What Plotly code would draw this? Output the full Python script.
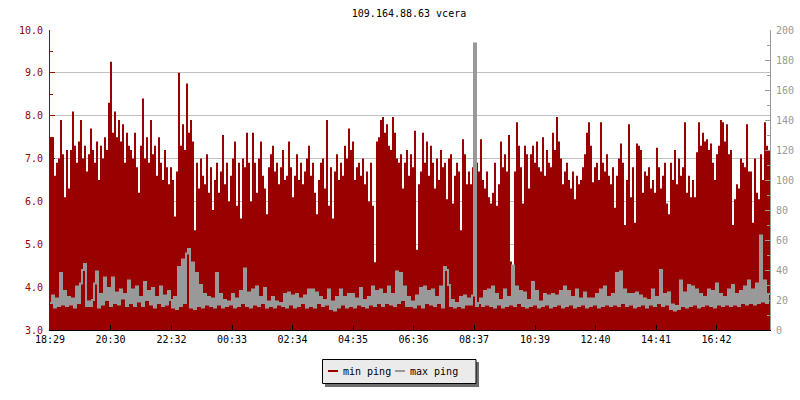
import plotly.graph_objects as go

TITLE = "109.164.88.63 vcera"
TICK_LABELS = ["18:29", "20:30", "22:32", "00:33", "02:34", "04:35",
               "06:36", "08:37", "10:39", "12:40", "14:41", "16:42"]
TICK_MINUTES = [0, 121, 243, 364, 485, 606, 727, 848, 970, 1091, 1212, 1333]
SPAN_MINUTES = 1440
SERIES_NAMES = ["min ping", "max ping"]

# min ping (ms), left axis, one value per 4 minutes
MIN_PING = [
    7.5, 7.5, 6.6, 6.9, 7.0, 7.9, 7.1, 6.1, 7.2, 6.3,
    7.2, 8.1, 7.3, 6.9, 7.4, 7.9, 7.0, 7.3, 6.7, 7.1,
    7.7, 7.2, 6.9, 7.4, 6.5, 7.3, 7.0, 7.5, 7.2, 8.3,
    9.26, 7.6, 8.1, 7.5, 7.9, 7.4, 7.8, 6.9, 7.6, 7.3,
    7.2, 7.0, 7.6, 6.8, 6.2, 7.3, 8.4, 7.0, 7.5, 6.9,
    7.9, 7.1, 7.3, 6.6, 7.5, 6.9, 6.5, 7.2, 6.8, 6.4,
    6.8, 6.5, 5.65, 6.7, 9.0, 7.3, 7.8, 7.2, 8.75, 7.6,
    7.9, 7.4, 5.33, 6.9, 6.3, 7.0, 6.6, 6.4, 7.1, 6.2,
    6.8, 5.8, 6.5, 6.9, 6.2, 6.7, 7.55, 6.4, 6.9, 6.0,
    6.6, 7.0, 7.4, 5.9, 6.9, 5.6, 7.0, 6.8, 7.6, 6.9,
    6.0, 7.6, 6.9, 6.2, 7.0, 7.4, 6.6, 6.3, 5.7, 6.8,
    7.1, 7.3, 6.7, 6.9, 6.4, 6.8, 7.2, 6.5, 6.6, 7.4,
    6.8, 6.1, 6.6, 7.1, 6.5, 6.9, 6.4, 6.7, 7.0, 7.3,
    6.6, 6.9, 6.2, 5.7, 6.5, 6.9, 7.0, 6.3, 7.9, 5.9,
    6.8, 5.6, 6.7, 7.1, 6.5, 6.9, 6.6, 7.3, 7.0, 7.7,
    7.2, 7.4, 6.5, 6.8, 6.9, 6.6, 7.0, 6.4, 6.7, 6.0,
    6.9, 5.9, 4.58, 7.4, 7.5, 7.9, 7.97, 7.6, 7.8, 7.3,
    7.2, 7.97, 7.6, 7.0, 6.9, 7.1, 6.3, 6.9, 7.2, 6.6,
    7.1, 6.8, 7.65, 4.87, 6.4, 6.7, 7.6, 6.9, 7.4, 6.6,
    7.3, 6.9, 6.3, 7.0, 6.5, 7.2, 6.8, 6.9, 6.05, 7.0,
    7.1, 5.95, 6.6, 6.9, 6.7, 5.33, 7.45, 7.1, 6.4, 6.7,
    6.4, 6.8, 6.9, 6.9, 6.7, 7.45, 6.5, 6.3, 6.7, 6.1,
    5.95, 6.2, 6.9, 5.9, 6.4, 7.4, 6.8, 7.1, 6.7, 7.55,
    4.6, 4.47, 6.7, 7.85, 7.3, 6.8, 5.95, 7.3, 7.1, 6.3,
    7.1, 7.3, 6.9, 7.4, 6.8, 6.7, 7.5, 6.6, 7.2, 6.9,
    6.8, 7.6, 7.2, 7.97, 7.4, 7.0, 6.4, 6.7, 6.9, 6.5,
    6.3, 6.7, 6.05, 6.6, 6.4, 6.5, 6.8, 7.1, 7.6, 7.85,
    7.3, 6.45, 6.8, 6.9, 6.5, 7.85, 6.9, 6.7, 7.1, 6.6,
    6.4, 6.8, 5.85, 6.6, 7.0, 7.35, 6.9, 5.45, 6.5, 7.8,
    6.1, 6.8, 5.5, 7.35, 7.3, 7.2, 6.2, 6.7, 6.6, 6.8,
    6.3, 6.5, 6.2, 7.25, 6.8, 6.3, 6.6, 6.9, 5.95, 5.7,
    6.9, 6.5, 7.2, 6.4, 7.0, 6.6, 6.8, 7.85, 6.2, 6.6,
    6.1, 6.5, 6.1, 7.15, 7.85, 7.3, 7.6, 7.4, 7.45, 7.2,
    7.35, 6.9, 6.5, 7.1, 7.3, 7.9, 7.85, 7.4, 7.8, 7.1,
    7.2, 5.45, 6.05, 6.4, 6.3, 7.0, 6.9, 6.8, 7.8, 6.7,
    6.7, 5.5, 7.0, 6.2, 6.05, 7.1, 6.5, 7.85, 7.3, 7.2,
]

# max ping (ms), right axis, one value per 4 minutes
MAX_PING = [
    18, 23, 15, 21, 16, 38, 17, 26, 16, 22,
    17, 21, 15, 29, 18, 31, 40, 44, 16, 19,
    16, 20, 31, 39, 15, 24, 17, 35, 20, 28,
    16, 35, 18, 25, 17, 27, 21, 24, 16, 33,
    18, 27, 16, 29, 19, 22, 16, 32, 20, 26,
    17, 28, 15, 22, 18, 29, 16, 23, 17, 26,
    20, 15, 22, 14, 42, 16, 47, 18, 51, 54,
    15, 45, 14, 38, 16, 30, 15, 24, 17, 22,
    16, 21, 15, 38, 17, 24, 15, 20, 16, 19,
    17, 24, 15, 21, 16, 26, 18, 41, 16, 25,
    15, 27, 17, 29, 16, 22, 18, 28, 15, 19,
    16, 22, 15, 19, 17, 18, 16, 24, 15, 25,
    17, 23, 15, 24, 16, 21, 18, 23, 15, 27,
    16, 27, 15, 25, 18, 22, 16, 20, 17, 27,
    14, 19, 13, 22, 15, 27, 17, 22, 15, 24,
    16, 24, 15, 21, 17, 28, 16, 20, 15, 22,
    17, 29, 16, 26, 18, 27, 16, 24, 18, 29,
    17, 24, 16, 39, 18, 38, 20, 29, 16, 22,
    16, 19, 15, 23, 17, 28, 15, 29, 18, 26,
    17, 27, 16, 22, 18, 29, 15, 42, 40, 30,
    16, 20, 15, 18, 16, 22, 15, 23, 17, 21,
    17, 23, 191, 16, 18, 21, 16, 26, 17, 27,
    16, 29, 15, 24, 17, 20, 15, 27, 16, 22,
    17, 43, 16, 29, 18, 26, 16, 25, 15, 20,
    16, 32, 17, 26, 15, 19, 16, 24, 17, 23,
    15, 24, 16, 23, 17, 26, 15, 29, 16, 26,
    17, 22, 15, 27, 16, 21, 17, 25, 15, 21,
    16, 21, 17, 24, 15, 27, 16, 29, 17, 22,
    16, 24, 17, 38, 16, 39, 18, 27, 16, 24,
    17, 24, 15, 25, 16, 23, 17, 21, 15, 20,
    17, 27, 16, 22, 18, 40, 16, 24, 17, 25,
    14, 17, 13, 16, 14, 33, 16, 25, 15, 30,
    16, 29, 17, 27, 15, 24, 16, 22, 17, 27,
    16, 26, 15, 31, 17, 24, 16, 22, 17, 27,
    16, 30, 17, 24, 16, 26, 18, 29, 17, 33,
    18, 27, 17, 31, 18, 63, 19, 33, 18, 24,
]

RED = "#990000"
GRAY = "#999999"
FONT = "DejaVu Sans Mono"

n = len(MIN_PING)
step = SPAN_MINUTES / n
x_min = [i * step for i in range(n)] + [SPAN_MINUTES]
y_min = MIN_PING + [MIN_PING[-1]]
m = len(MAX_PING)
step2 = SPAN_MINUTES / m
x_max = [i * step2 for i in range(m)] + [SPAN_MINUTES]
y_max = MAX_PING + [MAX_PING[-1]]

fig = go.Figure()
fig.add_trace(go.Scatter(
    x=x_min, y=y_min, name=SERIES_NAMES[0], mode="lines", line_shape="hv",
    line=dict(width=0, color=RED), fill="tozeroy", fillcolor=RED,
    yaxis="y", showlegend=False, hoverinfo="skip"))
fig.add_trace(go.Scatter(
    x=x_max, y=y_max, name=SERIES_NAMES[1], mode="lines", line_shape="hv",
    line=dict(width=2, color=GRAY), yaxis="y2", showlegend=False,
    hoverinfo="skip"))

# plot area in pixels
L, R, T, B = 50, 770, 30, 330
W, H = 800, 400


def px(x):
    return (x - L) / (R - L)


def py(y):
    return (B - y) / (B - T)


shapes = [
    # legend shadow
    dict(type="rect", xref="paper", yref="paper", x0=px(325), x1=px(479),
         y0=py(387), y1=py(362), fillcolor="#6e6e6e", line=dict(width=0),
         layer="above"),
    # legend box
    dict(type="rect", xref="paper", yref="paper", x0=px(322.5), x1=px(476),
         y0=py(383.5), y1=py(359.5), fillcolor="#ebebeb",
         line=dict(width=1, color="black"), layer="above"),
    dict(type="line", xref="paper", yref="paper", x0=px(328), x1=px(338),
         y0=py(371), y1=py(371), line=dict(width=2, color=RED), layer="above"),
    dict(type="line", xref="paper", yref="paper", x0=px(395), x1=px(405),
         y0=py(371), y1=py(371), line=dict(width=2, color=GRAY), layer="above"),
]
annotations = [
    dict(text=SERIES_NAMES[0], xref="paper", yref="paper", x=px(340.5), y=py(371),
         xanchor="left", yanchor="middle", showarrow=False,
         font=dict(family=FONT, size=10, color="black")),
    dict(text=SERIES_NAMES[1], xref="paper", yref="paper", x=px(407.5), y=py(371),
         xanchor="left", yanchor="middle", showarrow=False,
         font=dict(family=FONT, size=10, color="black")),
]

fig.update_layout(
    width=W, height=H,
    margin=dict(l=L, r=W - R, t=T, b=H - B, autoexpand=False),
    paper_bgcolor="white", plot_bgcolor="white",
    title=dict(text=TITLE, x=409 / W, xanchor="center", y=1 - 13 / H,
               yanchor="middle", font=dict(family=FONT, size=10, color="black")),
    showlegend=False,
    shapes=shapes, annotations=annotations,
    xaxis=dict(range=[0, SPAN_MINUTES], tickvals=TICK_MINUTES,
               ticktext=TICK_LABELS, ticks="inside", ticklen=5,
               tickcolor="black", showline=True, linecolor="black",
               linewidth=1, showgrid=False, zeroline=False, automargin=False,
               tickfont=dict(family=FONT, size=10, color="black")),
    yaxis=dict(range=[3, 10], dtick=1, tick0=3, tickformat=".1f",
               ticks="inside", ticklen=5, tickcolor=RED, showline=True,
               linecolor=RED, linewidth=1, showgrid=True, gridcolor="#c0c0c0",
               zeroline=False, ticklabelstandoff=4, automargin=False,
               tickfont=dict(family=FONT, size=10, color=RED),
               minor=dict(dtick=0.5, ticks="inside", ticklen=3,
                          tickcolor=RED, showgrid=False)),
    yaxis2=dict(range=[0, 200], dtick=20, tick0=0, overlaying="y",
                side="right", ticks="inside", ticklen=5, tickcolor=GRAY,
                showline=True, linecolor=GRAY, linewidth=1, showgrid=False,
                zeroline=False, ticklabelstandoff=3, automargin=False,
                tickfont=dict(family=FONT, size=10, color=GRAY),
                minor=dict(dtick=10, ticks="inside", ticklen=3,
                           tickcolor=GRAY, showgrid=False)),
)

fig.write_html("out.html", config={"displayModeBar": False},
               post_script="document.body.style.margin='0px';")
